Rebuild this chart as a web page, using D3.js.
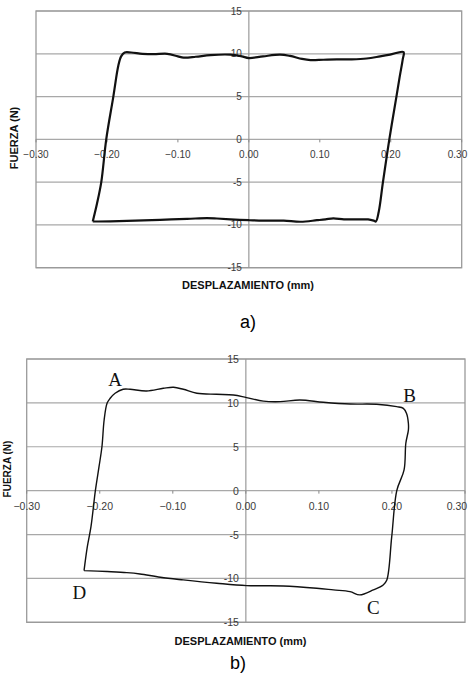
<!DOCTYPE html>
<html>
<head>
<meta charset="utf-8">
<script src="https://cdn.jsdelivr.net/npm/d3@7"></script>
<style>
    body { margin: 0; background: #fff; }
    #chart { width: 471px; height: 674px; }
    svg { display: block; font-family: "Liberation Sans", Arial, sans-serif; }
</style>
</head>
<body>
<div id="chart"></div>
<script>
/* * * * * * * * * * * * * *
*       HysteresisVis      *
* * * * * * * * * * * * * */

// shared axis ticks
let xTicks = [-0.30, -0.20, -0.10, 0.00, 0.10, 0.20, 0.30];
let yTicks = [-15, -10, -5, 0, 5, 10, 15];

// loop a) displacement (mm) / force (N)
let loopAX = [-0.220, -0.214, -0.208, -0.201, -0.191, -0.184, -0.180, -0.175, -0.166, -0.150, -0.134, -0.115, -0.100,
    -0.092, -0.075, -0.054, -0.026, -0.010, 0.000, 0.020, 0.044, 0.058, 0.075, 0.087, 0.105, 0.124, 0.145, 0.166,
    0.185, 0.199, 0.218, 0.217, 0.213, 0.208, 0.198, 0.189, 0.183, 0.179, 0.176, 0.168, 0.162, 0.150, 0.134, 0.119,
    0.108, 0.096, 0.073, 0.049, 0.020, 0.000, -0.026, -0.045, -0.059, -0.087, -0.125, -0.160, -0.195, -0.220];
let loopAF = [-9.6, -7.5, -5.0, 0.0, 5.0, 8.6, 9.7, 10.15, 10.15, 10.0, 9.95, 10.0, 9.7,
    9.55, 9.65, 9.85, 9.9, 9.7, 9.5, 9.7, 9.9, 9.75, 9.4, 9.26, 9.3, 9.34, 9.35, 9.45,
    9.7, 9.9, 10.2, 9.4, 7.5, 5.0, 0.0, -5.0, -8.5, -9.6, -9.5, -9.35, -9.35, -9.35, -9.35, -9.23,
    -9.35, -9.45, -9.63, -9.5, -9.5, -9.45, -9.35, -9.25, -9.2, -9.3, -9.4, -9.5, -9.58, -9.6];

// loop b)
let loopBX = [-0.2215, -0.217, -0.212, -0.206, -0.201, -0.197, -0.194, -0.190, -0.186, -0.179, -0.168, -0.1585,
    -0.136, -0.113, -0.099, -0.0856, -0.067, -0.040, -0.017, 0.001, 0.024, 0.047, 0.074, 0.106, 0.1426, 0.179,
    0.2066, 0.2156, 0.220, 0.2225, 0.2225, 0.219, 0.2166, 0.2066, 0.1997, 0.193, 0.188, 0.1745, 0.156, 0.1426,
    0.120, 0.097, 0.051, 0.001, -0.040, -0.0856, -0.117, -0.145, -0.163, -0.190, -0.2215];
let loopBF = [-9.11, -6.38, -4.1, 0.0, 2.73, 5.0, 8.05, 9.95, 10.5, 11.1, 11.55, 11.55,
    11.36, 11.66, 11.78, 11.55, 11.1, 10.98, 10.9, 10.6, 10.2, 10.14, 10.33, 10.07, 9.87, 9.84,
    9.57, 9.38, 8.8, 7.68, 6.9, 5.4, 2.36, 0.0, -5.24, -10.17, -10.74, -11.31, -11.88, -11.5,
    -11.31, -11.12, -10.86, -10.82, -10.55, -10.17, -9.87, -9.49, -9.34, -9.22, -9.11];

// corner labels of loop b)
let cornerNames = ["A", "B", "C", "D"];
let cornerX = [-0.179, 0.224, 0.1745, -0.228];
let cornerF = [12.7, 10.8, -13.3, -11.6];

class HysteresisVis {

    constructor(svg, box, xs, fs, opts) {
        this.svg = svg;
        this.box = box;
        this.points = xs.map((d, i) => ({x: d, f: fs[i]}));
        this.opts = opts;
        this.initVis();
    }

    initVis() {
        let vis = this;
        let b = vis.box;

        vis.x = d3.scaleLinear().domain([-0.3, 0.3]).range([b.left, b.right]);
        vis.y = d3.scaleLinear().domain([-15, 15]).range([b.bottom, b.top]);

        vis.g = vis.svg.append('g');

        // horizontal grid
        vis.g.selectAll('.grid')
            .data(yTicks)
            .enter().append('line')
            .attr('x1', b.left).attr('x2', b.right)
            .attr('y1', d => vis.y(d)).attr('y2', d => vis.y(d))
            .attr('stroke', '#a8a8a8')
            .attr('stroke-width', 1.2);

        // frame
        vis.g.append('rect')
            .attr('x', b.left).attr('y', b.top)
            .attr('width', b.right - b.left).attr('height', b.bottom - b.top)
            .attr('fill', 'none')
            .attr('stroke', '#9a9a9a')
            .attr('stroke-width', 1.3);

        // y axis at x = 0
        vis.g.append('line')
            .attr('x1', vis.x(0)).attr('x2', vis.x(0))
            .attr('y1', b.top).attr('y2', b.bottom)
            .attr('stroke', '#9a9a9a')
            .attr('stroke-width', 1.2);

        // small ticks on the x axis
        vis.g.selectAll('.xtick')
            .data(xTicks)
            .enter().append('line')
            .attr('x1', d => vis.x(d)).attr('x2', d => vis.x(d))
            .attr('y1', vis.y(0)).attr('y2', vis.y(0) + 3)
            .attr('stroke', '#888');

        // last label is kept inside the page
        vis.g.selectAll('.xlabel')
            .data(xTicks)
            .enter().append('text')
            .attr('x', d => Math.min(vis.x(d), 470 - vis.opts.tickSize * 1.25))
            .attr('y', vis.y(0) + 15)
            .attr('text-anchor', 'middle')
            .attr('dominant-baseline', 'central')
            .attr('font-size', vis.opts.tickSize)
            .attr('fill', '#3a3a3a')
            .text(d => d3.format('.2f')(d));

        vis.g.selectAll('.ylabel')
            .data(yTicks)
            .enter().append('text')
            .attr('x', vis.x(0) - 7)
            .attr('y', d => vis.y(d))
            .attr('text-anchor', 'end')
            .attr('dominant-baseline', 'central')
            .attr('font-size', vis.opts.tickSize)
            .attr('fill', '#3a3a3a')
            .text(d => d);

        // axis titles
        vis.g.append('text')
            .attr('x', vis.opts.xTitle[0]).attr('y', vis.opts.xTitle[1])
            .attr('text-anchor', 'middle')
            .attr('dominant-baseline', 'central')
            .attr('font-size', 11)
            .attr('font-weight', 'bold')
            .attr('fill', '#111')
            .text('DESPLAZAMIENTO (mm)');

        vis.g.append('text')
            .attr('transform', `translate(${vis.opts.yTitle[0]}, ${vis.opts.yTitle[1]}) rotate(-90)`)
            .attr('text-anchor', 'middle')
            .attr('dominant-baseline', 'central')
            .attr('font-size', vis.opts.yTitle[2])
            .attr('font-weight', 'bold')
            .attr('fill', '#111')
            .text('FUERZA (N)');

        // caption a) / b)
        vis.g.append('text')
            .attr('x', vis.opts.caption[0]).attr('y', vis.opts.caption[1])
            .attr('text-anchor', 'middle')
            .attr('dominant-baseline', 'central')
            .attr('font-size', 18)
            .attr('fill', '#000')
            .text(vis.opts.caption[2]);

        vis.updateVis();
    }

    updateVis() {
        let vis = this;

        let line = d3.line()
            .x(d => vis.x(d.x))
            .y(d => vis.y(d.f))
            .curve(d3.curveCatmullRom.alpha(0.5));

        vis.g.append('path')
            .datum(vis.points)
            .attr('d', line)
            .attr('fill', 'none')
            .attr('stroke', '#111')
            .attr('stroke-width', vis.opts.lineWidth)
            .attr('stroke-linejoin', 'round');

        if (vis.opts.corners) {
            vis.g.selectAll('.corner')
                .data(cornerNames)
                .enter().append('text')
                .attr('x', (d, i) => vis.x(cornerX[i]))
                .attr('y', (d, i) => vis.y(cornerF[i]))
                .attr('text-anchor', 'middle')
                .attr('dominant-baseline', 'central')
                .attr('font-family', '"Liberation Serif", "Times New Roman", serif')
                .attr('font-size', 19)
                .attr('fill', '#111')
                .text(d => d);
        }
    }
}

let svg = d3.select('#chart').append('svg')
    .attr('width', 471)
    .attr('height', 674);

new HysteresisVis(svg, {left: 36, right: 461.7, top: 11, bottom: 267.7}, loopAX, loopAF, {
    tickSize: 10, lineWidth: 2.2, xTitle: [248, 285], yTitle: [14, 138, 11], caption: [248, 322, 'a)'], corners: false
});

new HysteresisVis(svg, {left: 26.7, right: 465, top: 359, bottom: 622.3}, loopBX, loopBF, {
    tickSize: 10.5, lineWidth: 1.4, xTitle: [240.5, 641], yTitle: [7, 469, 10], caption: [238, 663, 'b)'], corners: true
});
</script>
</body>
</html>
